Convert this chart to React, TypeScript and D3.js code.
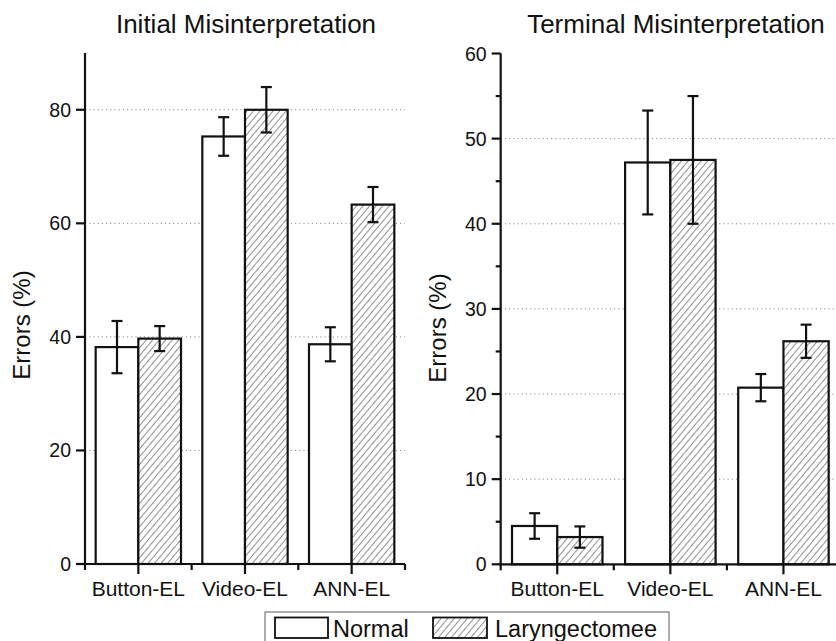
import React from "react";
import * as d3 from "d3";

const categories = ["Button-EL", "Video-EL", "ANN-EL"];
const seriesNames = ["Normal", "Laryngectomee"];

const initialNormal = [38.2, 75.3, 38.7];
const initialNormalErr = [4.6, 3.4, 3.0];
const initialLaryn = [39.7, 80.0, 63.3];
const initialLarynErr = [2.2, 4.0, 3.1];

const terminalNormal = [4.5, 47.2, 20.75];
const terminalNormalErr = [1.5, 6.1, 1.6];
const terminalLaryn = [3.2, 47.5, 26.2];
const terminalLarynErr = [1.25, 7.5, 1.95];

const initialTicks = [0, 20, 40, 60, 80];
const initialGrid = [20, 40, 60, 80];
const terminalTicks = [0, 10, 20, 30, 40, 50, 60];
const terminalMinor = [5, 15, 25, 35, 45, 55];
const terminalGrid = [10, 20, 30, 40, 50];

const FONT = "'Liberation Sans', Arial, Helvetica, sans-serif";

type PanelProps = {
  title: string;
  x0: number;
  x1: number;
  yTop: number;
  yBottom: number;
  yMax: number;
  ticks: number[];
  minor: number[];
  grid: number[];
  normal: number[];
  normalErr: number[];
  laryn: number[];
  larynErr: number[];
  titleX: number;
  labelX: number;
  labelY: number;
};

function Panel(p: PanelProps) {
  const y = d3.scaleLinear().domain([0, p.yMax]).range([p.yBottom, p.yTop]);
  const x = d3.scaleBand<string>().domain(categories).range([p.x0, p.x1]).paddingInner(0).paddingOuter(0);
  const bw = x.bandwidth();
  const sub = d3.scaleBand<string>().domain(seriesNames).range([bw * 0.1, bw * 0.9]).padding(0);
  const vals = [p.normal, p.laryn];
  const errs = [p.normalErr, p.larynErr];
  const capW = 11;
  const xTicks: { x: number; major: boolean }[] = [];
  categories.forEach((c, i) => {
    const s = x(c) as number;
    if (i === 0) xTicks.push({ x: s, major: false });
    xTicks.push({ x: s + bw / 2, major: true });
    xTicks.push({ x: s + bw, major: false });
  });
  return (
    <g>
      <text x={p.titleX} y={33} textAnchor="middle" fontSize={26} fontFamily={FONT} fill="#111">
        {p.title}
      </text>
      <text
        transform={`translate(${p.labelX},${p.labelY}) rotate(-90)`}
        textAnchor="middle"
        fontSize={24}
        fontFamily={FONT}
        fill="#111"
      >
        Errors (%)
      </text>
      {p.grid.map((t) => (
        <line
          key={"g" + t}
          x1={p.x0}
          x2={p.x1}
          y1={y(t)}
          y2={y(t)}
          stroke="#8a8a8a"
          strokeWidth={1}
          strokeDasharray="1.2,3"
        />
      ))}
      {categories.map((c, i) =>
        seriesNames.map((s, j) => {
          const bx = (x(c) as number) + (sub(s) as number);
          const v = vals[j][i];
          return (
            <rect
              key={c + s}
              x={bx}
              y={y(v)}
              width={sub.bandwidth()}
              height={y(0) - y(v)}
              fill={j === 0 ? "#fff" : "url(#hatch)"}
              stroke="#111"
              strokeWidth={2.2}
            />
          );
        })
      )}
      {categories.map((c, i) =>
        seriesNames.map((s, j) => {
          const cx = (x(c) as number) + (sub(s) as number) + sub.bandwidth() / 2;
          const v = vals[j][i];
          const e = errs[j][i];
          return (
            <g key={"e" + c + s} stroke="#111" strokeWidth={2.2}>
              <line x1={cx} x2={cx} y1={y(v + e)} y2={y(v - e)} />
              <line x1={cx - capW / 2} x2={cx + capW / 2} y1={y(v + e)} y2={y(v + e)} />
              <line x1={cx - capW / 2} x2={cx + capW / 2} y1={y(v - e)} y2={y(v - e)} />
            </g>
          );
        })
      )}
      <line x1={p.x0} x2={p.x0} y1={p.yTop} y2={p.yBottom + 1} stroke="#111" strokeWidth={2.2} />
      {p.ticks.map((t) => (
        <g key={"t" + t}>
          <line x1={p.x0 - 9} x2={p.x0} y1={y(t)} y2={y(t)} stroke="#111" strokeWidth={2.2} />
          <text x={p.x0 - 14} y={y(t) + 7} textAnchor="end" fontSize={19.5} fontFamily={FONT} fill="#111">
            {t}
          </text>
        </g>
      ))}
      {p.minor.map((t) => (
        <line key={"m" + t} x1={p.x0 - 5} x2={p.x0} y1={y(t)} y2={y(t)} stroke="#111" strokeWidth={2.2} />
      ))}
      <line x1={p.x0 - 1} x2={p.x1} y1={p.yBottom} y2={p.yBottom} stroke="#111" strokeWidth={2.2} />
      {xTicks.map((t, i) => (
        <line
          key={"xt" + i}
          x1={t.x}
          x2={t.x}
          y1={p.yBottom}
          y2={p.yBottom + (t.major ? 10 : 6)}
          stroke="#111"
          strokeWidth={2.2}
        />
      ))}
      {categories.map((c) => (
        <text
          key={"xl" + c}
          x={(x(c) as number) + bw / 2}
          y={596}
          textAnchor="middle"
          fontSize={21}
          fontFamily={FONT}
          fill="#111"
        >
          {c}
        </text>
      ))}
    </g>
  );
}

export default function App() {
  return (
    <svg width={836} height={641} style={{ position: "absolute", left: 0, top: 0, background: "#fff" }}>
      <defs>
        <pattern id="hatch" patternUnits="userSpaceOnUse" width={5} height={5} patternTransform="rotate(40)">
          <rect width={5} height={5} fill="#fff" />
          <line x1={0} y1={0} x2={0} y2={5} stroke="#333" strokeWidth={1.1} />
        </pattern>
      </defs>
      <rect width={836} height={641} fill="#fff" />
      <Panel
        title="Initial Misinterpretation"
        x0={85}
        x1={405}
        yTop={53}
        yBottom={564}
        yMax={90}
        ticks={initialTicks}
        minor={[]}
        grid={initialGrid}
        normal={initialNormal}
        normalErr={initialNormalErr}
        laryn={initialLaryn}
        larynErr={initialLarynErr}
        titleX={246}
        labelX={30}
        labelY={325}
      />
      <Panel
        title="Terminal Misinterpretation"
        x0={500.7}
        x1={840}
        yTop={53.5}
        yBottom={564.3}
        yMax={60}
        ticks={terminalTicks}
        minor={terminalMinor}
        grid={terminalGrid}
        normal={terminalNormal}
        normalErr={terminalNormalErr}
        laryn={terminalLaryn}
        larynErr={terminalLarynErr}
        titleX={676}
        labelX={446}
        labelY={328}
      />
      <rect x={265} y={612} width={404} height={40} fill="#fff" stroke="#777" strokeWidth={1.2} />
      <rect x={275} y={617.5} width={53} height={20.5} fill="#fff" stroke="#111" strokeWidth={1.8} />
      <text x={333} y={637} fontSize={23.5} fontFamily={FONT} fill="#111">
        {seriesNames[0]}
      </text>
      <rect x={433} y={617.5} width={54} height={20.5} fill="url(#hatch)" stroke="#111" strokeWidth={1.8} />
      <text x={495} y={637} fontSize={23.5} fontFamily={FONT} fill="#111">
        {seriesNames[1]}
      </text>
    </svg>
  );
}
